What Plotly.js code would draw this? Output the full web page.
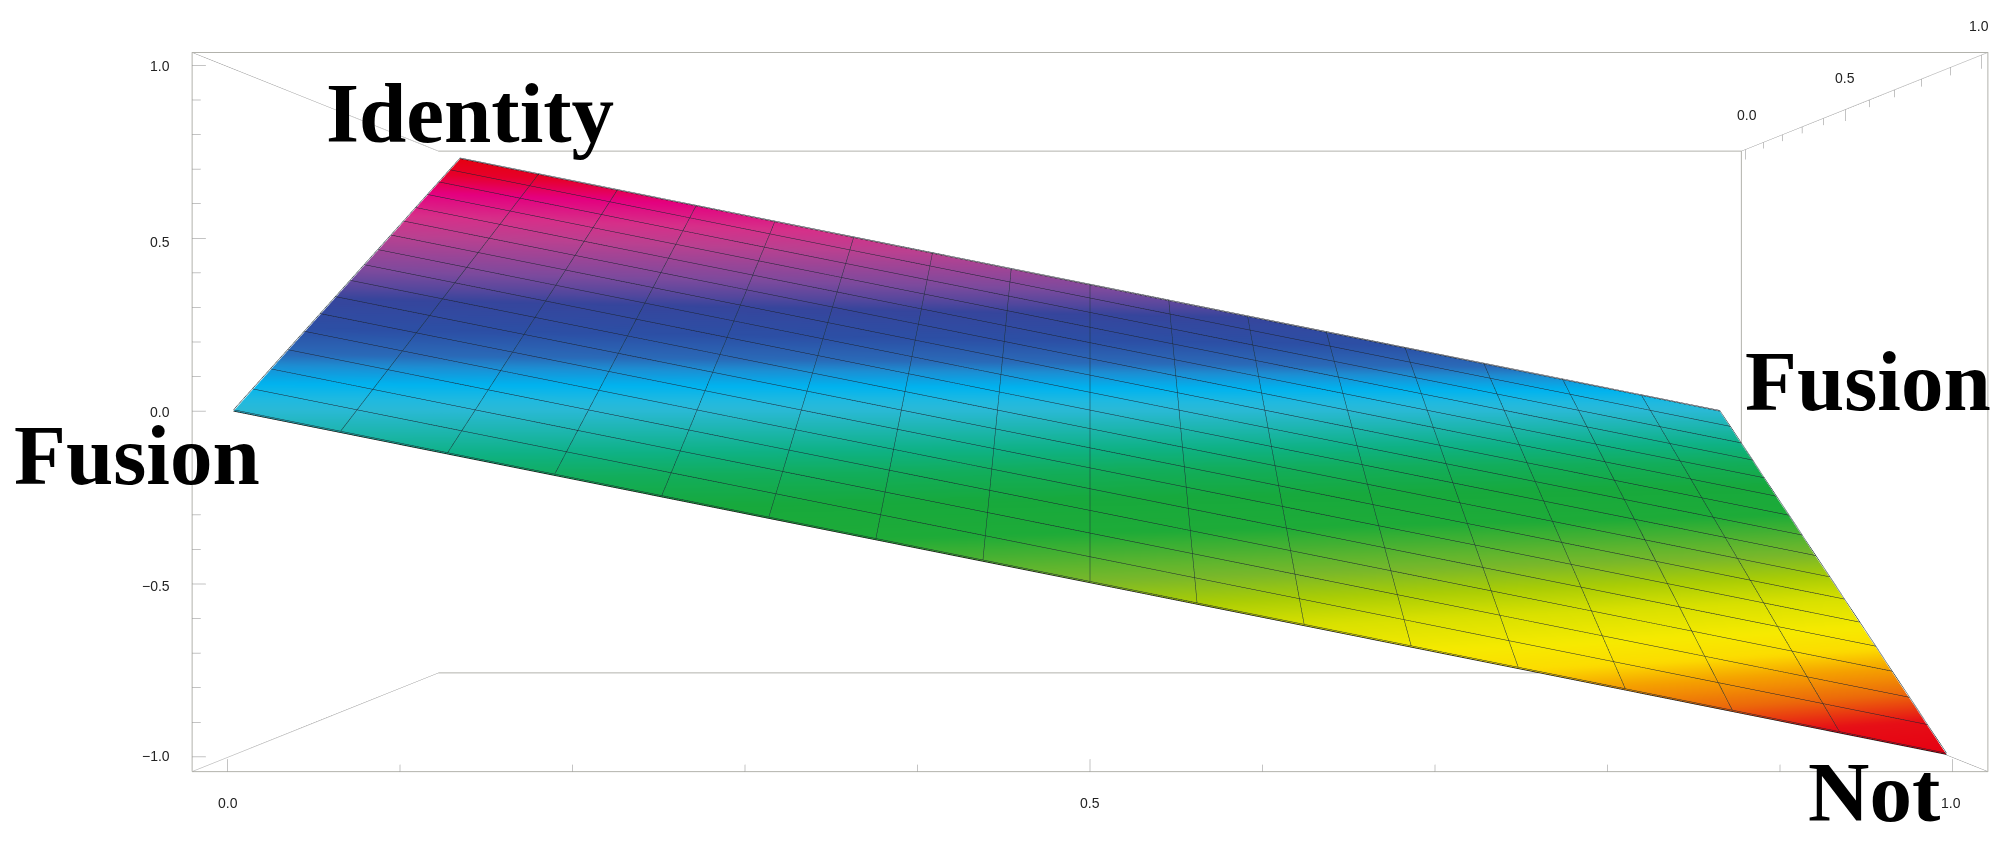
<!DOCTYPE html>
<html>
<head>
<meta charset="utf-8">
<script src="https://cdn.plot.ly/plotly-3.0.1.min.js"></script>
<style>html,body{margin:0;padding:0;background:#fff;overflow:hidden}#chart{width:2014px;height:844px}</style>
</head>
<body>
<div id="chart"></div>
<script>
var xValues = [0,0.0625,0.125,0.1875,0.25,0.3125,0.375,0.4375,0.5,0.5625,0.625,0.6875,0.75,0.8125,0.875,0.9375,1];
var yValues = [0,0.0625,0.125,0.1875,0.25,0.3125,0.375,0.4375,0.5,0.5625,0.625,0.6875,0.75,0.8125,0.875,0.9375,1];
var zValues = [
[1,0.9375,0.875,0.8125,0.75,0.6875,0.625,0.5625,0.5,0.4375,0.375,0.3125,0.25,0.1875,0.125,0.0625,0],
[0.9375,0.875,0.8125,0.75,0.6875,0.625,0.5625,0.5,0.4375,0.375,0.3125,0.25,0.1875,0.125,0.0625,0,-0.0625],
[0.875,0.8125,0.75,0.6875,0.625,0.5625,0.5,0.4375,0.375,0.3125,0.25,0.1875,0.125,0.0625,0,-0.0625,-0.125],
[0.8125,0.75,0.6875,0.625,0.5625,0.5,0.4375,0.375,0.3125,0.25,0.1875,0.125,0.0625,0,-0.0625,-0.125,-0.1875],
[0.75,0.6875,0.625,0.5625,0.5,0.4375,0.375,0.3125,0.25,0.1875,0.125,0.0625,0,-0.0625,-0.125,-0.1875,-0.25],
[0.6875,0.625,0.5625,0.5,0.4375,0.375,0.3125,0.25,0.1875,0.125,0.0625,0,-0.0625,-0.125,-0.1875,-0.25,-0.3125],
[0.625,0.5625,0.5,0.4375,0.375,0.3125,0.25,0.1875,0.125,0.0625,0,-0.0625,-0.125,-0.1875,-0.25,-0.3125,-0.375],
[0.5625,0.5,0.4375,0.375,0.3125,0.25,0.1875,0.125,0.0625,0,-0.0625,-0.125,-0.1875,-0.25,-0.3125,-0.375,-0.4375],
[0.5,0.4375,0.375,0.3125,0.25,0.1875,0.125,0.0625,0,-0.0625,-0.125,-0.1875,-0.25,-0.3125,-0.375,-0.4375,-0.5],
[0.4375,0.375,0.3125,0.25,0.1875,0.125,0.0625,0,-0.0625,-0.125,-0.1875,-0.25,-0.3125,-0.375,-0.4375,-0.5,-0.5625],
[0.375,0.3125,0.25,0.1875,0.125,0.0625,0,-0.0625,-0.125,-0.1875,-0.25,-0.3125,-0.375,-0.4375,-0.5,-0.5625,-0.625],
[0.3125,0.25,0.1875,0.125,0.0625,0,-0.0625,-0.125,-0.1875,-0.25,-0.3125,-0.375,-0.4375,-0.5,-0.5625,-0.625,-0.6875],
[0.25,0.1875,0.125,0.0625,0,-0.0625,-0.125,-0.1875,-0.25,-0.3125,-0.375,-0.4375,-0.5,-0.5625,-0.625,-0.6875,-0.75],
[0.1875,0.125,0.0625,0,-0.0625,-0.125,-0.1875,-0.25,-0.3125,-0.375,-0.4375,-0.5,-0.5625,-0.625,-0.6875,-0.75,-0.8125],
[0.125,0.0625,0,-0.0625,-0.125,-0.1875,-0.25,-0.3125,-0.375,-0.4375,-0.5,-0.5625,-0.625,-0.6875,-0.75,-0.8125,-0.875],
[0.0625,0,-0.0625,-0.125,-0.1875,-0.25,-0.3125,-0.375,-0.4375,-0.5,-0.5625,-0.625,-0.6875,-0.75,-0.8125,-0.875,-0.9375],
[0,-0.0625,-0.125,-0.1875,-0.25,-0.3125,-0.375,-0.4375,-0.5,-0.5625,-0.625,-0.6875,-0.75,-0.8125,-0.875,-0.9375,-1]
];
var colorStops = [
[0,'#e60012'],[0.035,'#e60f16'],[0.065,'#ec6a0a'],[0.097,'#f5a300'],[0.12,'#fcdc00'],[0.15,'#f6ea00'],[0.1875,'#d8e000'],
[0.22,'#aacd05'],[0.25,'#7ab82a'],[0.27,'#5fb52e'],[0.315,'#1eab38'],[0.36,'#17a93c'],[0.405,'#12ad5c'],[0.435,'#0eb183'],
[0.475,'#1fb6b5'],[0.5,'#2ab9d6'],[0.518,'#1fb9e0'],[0.543,'#00b3ef'],[0.568,'#1c8fd4'],[0.59,'#2a6ab8'],[0.63,'#2c4fa5'],
[0.685,'#36459c'],[0.705,'#53479d'],[0.74,'#7d4a9d'],[0.815,'#bb4090'],[0.86,'#d63089'],[0.915,'#e4007f'],[0.96,'#e6002a'],[1,'#e60012']
];
var axisTicks = [0,0.1,0.2,0.3,0.4,0.5,0.6,0.7,0.8,0.9,1];
var zTicks = [-1,-0.9,-0.8,-0.7,-0.6,-0.5,-0.4,-0.3,-0.2,-0.1,0,0.1,0.2,0.3,0.4,0.5,0.6,0.7,0.8,0.9,1];
var xRange = [-0.0208,1.0208];
var yRange = [1.02,-0.025];
var zRange = [-1.043,1.038];
var frontY = 1.0195, backY = -0.0245, leftX = -0.0205, rightX = 1.0205, lowZ = -1.0425, highZ = 1.0375;
var meshLift = 0.004;

function axis(range){
  return {range:range, title:{text:''}, showgrid:false, zeroline:false, showbackground:false, showspikes:false,
    showline:false, ticks:'', showticklabels:false};
}
function lines(xs,ys,zs,color,width){
  return {type:'scatter3d',mode:'lines',x:xs,y:ys,z:zs,line:{color:color,width:width},hoverinfo:'skip',showlegend:false,connectgaps:false};
}
function isMajor(v,step){ return Math.abs(v/step-Math.round(v/step))<1e-6; }
function tickSegments(ticks,make){
  var s={x:[],y:[],z:[]};
  ticks.forEach(function(v){ make(v,isMajor(v,0.5)).forEach(function(p){s.x.push(p[0]);s.y.push(p[1]);s.z.push(p[2]);});
    s.x.push(null);s.y.push(null);s.z.push(null);});
  return s;
}
var rectX=[leftX,rightX,rightX,leftX,leftX], rectZ=[lowZ,lowZ,highZ,highZ,lowZ];
var rectY=function(v){return [v,v,v,v,v];};
var frontRect = lines(rectX,rectY(frontY),rectZ,'#b2b2ac',2);
var backEdges = lines([leftX,rightX,rightX,leftX],[backY,backY,backY,backY],[highZ,highZ,lowZ,lowZ],'#b2b2ac',2);
var diagonals = lines(
  [leftX,leftX,null,rightX,rightX,null,leftX,leftX,null,rightX,rightX],
  [frontY,backY,null,frontY,backY,null,frontY,backY,null,frontY,backY],
  [highZ,highZ,null,highZ,highZ,null,lowZ,lowZ,null,lowZ,lowZ],'#a0a0a0',1);
var xt = tickSegments(axisTicks,function(v,m){return [[v,frontY,lowZ],[v,frontY,lowZ+(m?0.036:0.02)]];});
var zt = tickSegments(zTicks,function(v,m){return [[leftX,frontY,v],[leftX+(m?0.008:0.005),frontY,v]];});
var yt = tickSegments(axisTicks,function(v,m){return [[rightX,v,highZ],[rightX,v,highZ-(m?0.04:0.024)]];});
var xTicksTrace = lines(xt.x,xt.y,xt.z,'#888',1);
var zTicksTrace = lines(zt.x,zt.y,zt.z,'#888',1);
var yTicksTrace = lines(yt.x,yt.y,yt.z,'#888',1);
var edgeBack = lines(xValues,xValues.map(function(){return yValues[0];}),zValues[0],'#111',1.5);
var edgeFront = lines(xValues,xValues.map(function(){return yValues[16];}),zValues[16],'#111',1.5);

var meshA={x:[],y:[],z:[]}, meshB={x:[],y:[],z:[]};
yValues.forEach(function(yv,j){
  xValues.forEach(function(xv,i){ meshA.x.push(xv); meshA.y.push(yv); meshA.z.push(zValues[j][i]+meshLift); });
  meshA.x.push(null); meshA.y.push(null); meshA.z.push(null);
});
xValues.forEach(function(xv,i){
  yValues.forEach(function(yv,j){ meshB.x.push(xv); meshB.y.push(yv); meshB.z.push(zValues[j][i]+meshLift); });
  meshB.x.push(null); meshB.y.push(null); meshB.z.push(null);
});
var meshRows = lines(meshA.x,meshA.y,meshA.z,'#1c2230',1);
var meshCols = lines(meshB.x,meshB.y,meshB.z,'#1d3238',1);

function lab(x,y,z,text,xshift,yshift,xanchor){
  return {x:x,y:y,z:z,text:text,showarrow:false,xanchor:xanchor||'center',yanchor:'middle',xshift:xshift,yshift:yshift,
    font:{family:'Liberation Sans, Arial, sans-serif',size:14,color:'#222'}};
}
function big(x,y,z,text,xshift,yshift){
  return {x:x,y:y,z:z,text:'<b>'+text+'</b>',showarrow:false,xanchor:'center',yanchor:'middle',xshift:xshift,yshift:yshift,
    font:{family:'Liberation Serif, Times New Roman, serif',size:85,color:'#000'}};
}
var annos = [
  lab(-0.02,1.015,1,'1.0',-22,0,'right'), lab(-0.02,1.015,0.5,'0.5',-22,-3,'right'), lab(-0.02,1.015,0,'0.0',-22,-1,'right'),
  lab(-0.02,1.015,-0.5,'\u22120.5',-22,-2,'right'), lab(-0.02,1.015,-1,'\u22121.0',-22,0,'right'),
  lab(0,1.015,-1.04,'0.0',0,-33), lab(0.5,1.015,-1.04,'0.5',0,-33), lab(1,1.015,-1.04,'1.0',0,-33),
  lab(1.02,0,1.03,'0.0',2,36), lab(1.02,0.5,1.03,'0.5',0,34), lab(1.02,1,1.03,'1.0',-2,32),
  big(0,0,1,'Identity',10,46), big(0,1,0,'Fusion',-96,-44), big(1,0,0,'Fusion',148,30), big(1,1,-1,'Not',-72,-38)
];
var data = [{
  type:'surface', x:xValues, y:yValues, z:zValues, surfacecolor:zValues, cmin:-1, cmax:1, colorscale:colorStops,
  showscale:false, hoverinfo:'skip',
  lighting:{ambient:1,diffuse:0,specular:0,fresnel:0,roughness:1},
  contours:{x:{highlight:false},y:{highlight:false},z:{highlight:false}}
}, meshRows, meshCols, frontRect, backEdges, diagonals, xTicksTrace, zTicksTrace, yTicksTrace, edgeBack, edgeFront];
var layout = {
  width:2014, height:844, margin:{l:0,r:0,t:0,b:0}, paper_bgcolor:'#fff', showlegend:false,
  scene:{
    domain:{x:[0.0822,1],y:[0.0237,1]},
    aspectmode:'manual', aspectratio:{x:4.77,y:1,z:1.91},
    camera:{eye:{x:0,y:-3.14,z:0},center:{x:0,y:0,z:0},up:{x:0,y:0,z:1},projection:{type:'perspective'}},
    xaxis:axis(xRange), yaxis:axis(yRange), zaxis:axis(zRange),
    bgcolor:'#fff', annotations:annos
  }
};
Plotly.newPlot('chart',data,layout,{displayModeBar:false});
</script>
</body>
</html>
